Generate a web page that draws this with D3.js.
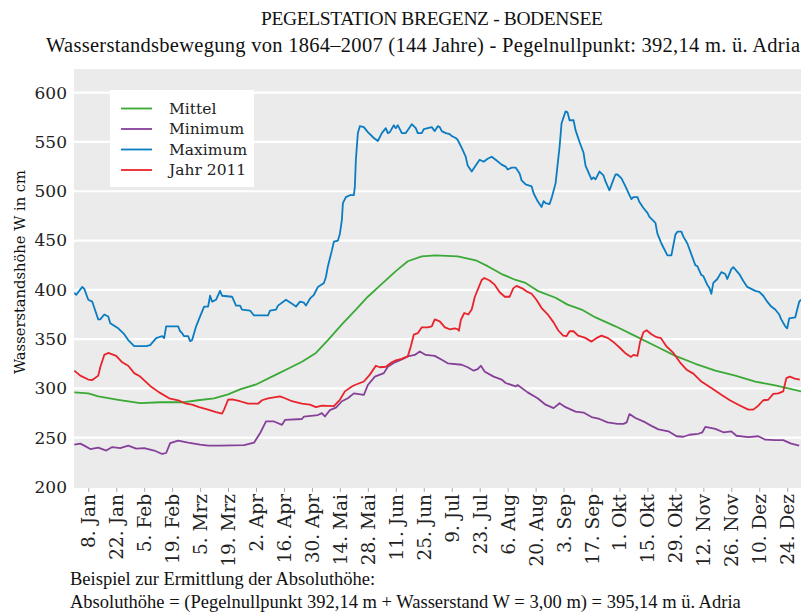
<!DOCTYPE html>
<html>
<head>
<meta charset="utf-8">
<script src="https://cdn.jsdelivr.net/npm/d3@7"></script>
<style>
  body { margin: 0; background: #fff; }
  svg { display: block; }
</style>
</head>
<body>
<svg id="chart" width="801" height="613"></svg>
<script>
// Tageswerte als [Tag des Jahres, Wasserstand in cm]
const mittel = [[1,296],[8,295],[13,292],[23,288.5],[34,285],[44,286],[56,286],[63,288],[71,290],[78,294],[84,299],[92,304],[102,314],[108,320],[115,327],[122,336],[128,349],[135,365],[142,380],[148,393],[155,406],[162,419],[168,429],[175,434],[182,435],[193,434],[202,430],[208,424],[215,416],[222,410],[227,407],[233,399],[242,392],[248,385],[255,380],[262,372],[272,363],[282,353],[292,343],[302,333],[312,325],[322,318],[332,313],[342,307],[352,303],[365,297]];

const minimum = [[1,243],[4,244],[6,242],[9,238.5],[13,240],[17,237],[20,240.5],[24,239.5],[28,242],[32,239],[36,239.5],[41,237],[45,233.5],[47,234.5],[49,244.5],[53,247],[58,245],[64,243],[68,242],[74,242],[86,242.5],[91,245],[94,254.5],[97,266.5],[101,266.5],[105,263],[106.5,268],[115,269],[116,271.5],[123,273],[125,275],[126.5,271.5],[129,278],[132,280.5],[135,287],[138,290],[141,295],[146,293.5],[148,303.5],[151.5,312],[156,315.5],[158,322],[161.5,326.5],[165,329.5],[168,332.5],[171.5,334],[174,337.5],[177,334],[181.5,333],[185,329],[188,325.5],[195,324],[198,321.5],[201,318],[203,319.5],[204.6,323],[206.6,317],[211,312],[215,309],[217,305.5],[222,302],[223,303.5],[228,296],[233,290],[237,283.5],[241,280],[244,285],[247,281],[252,276.5],[256,275.5],[260,271],[264,269],[268,265.5],[273,264],[276,264],[277.6,265.5],[279,274],[282,270],[287,265.5],[290,262],[293.5,258.5],[298.5,256.5],[302.6,251.5],[306,251],[309,253],[313.5,254],[315.5,255.5],[317,261],[322,259],[326,255.5],[330,256.5],[332.6,252],[338.5,250.5],[343.5,251.5],[347,248],[352,247.5],[356,247.5],[360,244],[364,242]];

const maximum = [[1,397],[2,395],[5,403],[6,401],[8,390],[10,388],[13,370],[14,370],[16,375],[18,373],[19,366],[23,361],[26,355],[28,349],[31,343],[37,343],[39,344],[42,351],[45,353],[46,351],[47,363],[53,363],[54,358],[55,356],[56,353],[58,353],[59,348],[60,349],[62,363],[64,373],[66,383],[68,383],[69,394],[70,388],[72,390],[74,399],[75,394],[80,393],[82,384],[84,384],[85,380],[89,379],[91,374],[98,374],[99,379],[102,380],[103,384],[107,390],[110,386],[112,383],[114,388],[116,387],[117,384],[119,391],[121,395],[123,403],[126,407],[127,413],[128,424],[130,440],[131,449],[133,450],[134,457],[135,471],[135.5,488],[137,494],[139,496],[141,496],[141.5,505],[142,532],[143,559],[144,566],[146,565],[148,560],[151,554],[153,551],[155,559],[157,564],[158,559],[159,560],[161,567],[162,564],[163,567],[165,559],[167,559],[170,568],[172,564],[173,559],[175,559],[176,563],[178,564],[180,565],[181.5,561],[183,566],[184,565],[185,561],[187,559],[189,558],[190,556],[192,554],[193,552],[195,544],[197,535],[198,526],[200,520],[202,526],[204,532],[205,531],[206,530],[208,533],[210,535],[212,532],[215,527],[217,525],[218,522],[220,524],[222,524],[224,518],[225,511],[227,507],[230,505],[231,498],[233,490],[235,484],[236,490],[237,488],[239,487],[240,493],[242,508],[244,545],[245,569],[247,581],[248,580],[249,572],[251,572],[252,562],[254,550],[256,539],[257,526],[260,512],[261,514],[262,512],[264,520],[266,516],[267,510],[269,501],[271,512],[272,517],[273,517],[275,513],[277,505],[279,496],[280,492],[281,494],[283,494],[284,489],[286,483],[288,478],[289,474],[292,468],[293,457],[295,447],[298,435],[300,435],[302,456],[303,459],[305,459],[306,454],[308,447],[310,436],[312,425],[313,424],[315,415],[316,414],[318,405],[319,402],[320,396],[321,407],[323,411],[325,418],[327,416],[328,411],[330,421],[331,423],[334,416],[336,409],[338,403],[342,399],[344,398],[346,394],[348,388],[350,383],[352,380],[354,375],[355,370],[357,363],[358,361],[359,371],[362,372],[363,380],[364,388],[365,390]];

const jahr2011 = [[1,318],[4,313],[8,309],[10,308.5],[13,313],[14,321.5],[16,334],[18,336],[22,333],[25,326.5],[28,323],[31,315.5],[34,312],[39,302.5],[43.5,296],[48.5,290],[53,288],[57,284.5],[60,283.5],[63.5,281],[68,278.5],[72,276],[75,274.5],[76,278.5],[78,288.5],[80,289],[84,287],[88,284.5],[93,284.5],[95,288],[98,290],[104,292],[106.5,290],[110,287],[115,284.5],[119,283.5],[122,281],[125,282.5],[131,282],[134,288.5],[136.5,297],[140,302],[141.5,303.5],[146,307],[149,314],[152,323],[154,321.5],[157,322],[160,326.5],[162,328.5],[165,330],[168,332.5],[169.5,342.5],[171,354.5],[173,356],[175,362],[178,362],[180,363],[181.5,370],[184,368],[186.6,362],[189,360],[191.6,361],[193,360],[193.6,358.5],[194.6,369.5],[196.3,376.5],[198.3,375],[200,380],[201.6,393],[203.3,401.5],[205,410],[206.3,412],[209,409.5],[211.6,405],[214,397.5],[216.6,393],[219,393],[220.8,401.5],[222.4,404],[225.3,401.5],[227.4,398.5],[230,396],[232.4,390],[235,381.5],[238.3,374.5],[241,367],[243.3,359],[245.8,353.5],[247.4,353],[249,358],[251,358],[253.3,353.5],[256.6,351.5],[260,347.5],[262.4,351],[265,353.5],[268.3,351],[271.6,346],[274.3,341],[276.8,336],[279.8,332],[281,334],[283,333],[284.3,347],[286,357],[287.6,359],[290,355],[292.6,352],[294.8,351],[297.6,342.5],[301,336],[304.3,326.5],[307.6,319],[311,315],[315,307],[320,300.5],[325,293.5],[329.3,288],[333.5,283.5],[338.5,278.5],[341,278.5],[343.5,282.5],[346,288],[348.5,288.5],[351,294.5],[353.5,295],[356,297],[357.6,310.5],[359.3,312],[361.8,310],[364.3,309]];

const seriesNames = ['Mittel', 'Minimum', 'Maximum', 'Jahr 2011'];
const seriesColors = ['#3aa935', '#86409a', '#0a7cc2', '#e8232b'];

const xTickLabels = ['8. Jan', '22. Jan', '5. Feb', '19. Feb', '5. Mrz', '19. Mrz', '2. Apr', '16. Apr', '30. Apr',
  '14. Mai', '28. Mai', '11. Jun', '25. Jun', '9. Jul', '23. Jul', '6. Aug', '20. Aug', '3. Sep', '17. Sep',
  '1. Okt', '15. Okt', '29. Okt', '12. Nov', '26. Nov', '10. Dez', '24. Dez'];
const yTicks = [200, 250, 300, 350, 400, 450, 500, 550, 600];

const svg = d3.select('#chart');
const panel = { left: 74, top: 69, right: 801, bottom: 488 };

// Tag des Jahres -> Datum (2011)
const dayToDate = d => new Date(2011, 0, 1 + (d - 1), Math.round((d % 1) * 24));

const x = d3.scaleTime()
  .domain([new Date(2011, 0, 1), new Date(2011, 11, 31)])
  .range([74.3, 801.2]);

const y = d3.scaleLinear()
  .domain([199, 624])
  .range([panel.bottom, panel.top]);

// Hintergrund
svg.append('rect')
  .attr('x', panel.left).attr('y', panel.top)
  .attr('width', panel.right - panel.left).attr('height', panel.bottom - panel.top)
  .attr('fill', '#ebebeb');

// Gitterlinien
svg.append('g')
  .selectAll('line')
  .data(yTicks.filter(t => t > 200))
  .enter().append('line')
  .attr('x1', panel.left).attr('x2', panel.right)
  .attr('y1', d => y(d)).attr('y2', d => y(d))
  .attr('stroke', '#fff')
  .attr('stroke-width', 2.2);

// Y-Achse
const yAxis = svg.append('g')
  .attr('transform', `translate(${panel.left},0)`)
  .call(d3.axisLeft(y).tickValues(yTicks).tickSize(0).tickPadding(7));
yAxis.select('.domain').remove();
yAxis.selectAll('text')
  .attr('font-family', 'DejaVu Serif')
  .attr('font-size', 17)
  .attr('fill', '#222');

// X-Achse
const tickDates = xTickLabels.map((l, i) => d3.timeDay.offset(new Date(2011, 0, 8), 14 * i));
const xAxis = svg.append('g')
  .attr('transform', `translate(0,${panel.bottom})`)
  .call(d3.axisBottom(x).tickValues(tickDates).tickSize(4)
    .tickFormat((d, i) => xTickLabels[i]));
xAxis.select('.domain').remove();
xAxis.selectAll('.tick line').attr('stroke', '#aaa');
xAxis.selectAll('text')
  .attr('font-family', 'DejaVu Serif')
  .attr('font-size', 18.5)
  .attr('fill', '#222')
  .attr('transform', 'rotate(-90)')
  .attr('text-anchor', 'end')
  .attr('x', -6)
  .attr('y', 0)
  .attr('dy', '0.35em');

// Linien
const line = d3.line()
  .x(d => x(dayToDate(d[0])))
  .y(d => y(d[1]));

svg.append('clipPath').attr('id', 'clip')
  .append('rect')
  .attr('x', panel.left).attr('y', panel.top)
  .attr('width', panel.right - panel.left).attr('height', panel.bottom - panel.top);

const allSeries = [mittel, minimum, maximum, jahr2011];
svg.append('g')
  .attr('clip-path', 'url(#clip)')
  .selectAll('path')
  .data(allSeries)
  .enter().append('path')
  .attr('d', line)
  .attr('fill', 'none')
  .attr('stroke', (d, i) => seriesColors[i])
  .attr('stroke-width', 1.8)
  .attr('stroke-linejoin', 'round');

// Legende
const legend = svg.append('g');
legend.append('rect')
  .attr('x', 110).attr('y', 90)
  .attr('width', 144).attr('height', 97)
  .attr('fill', '#fff');
const items = legend.selectAll('g.item')
  .data(seriesNames)
  .enter().append('g')
  .attr('class', 'item')
  .attr('transform', (d, i) => `translate(0,${108.5 + i * 20.5})`);
items.append('line')
  .attr('x1', 121).attr('x2', 152)
  .attr('stroke', (d, i) => seriesColors[i])
  .attr('stroke-width', 1.8);
items.append('text')
  .attr('x', 169)
  .attr('dy', '0.35em')
  .attr('font-family', 'DejaVu Serif')
  .attr('font-size', 15.5)
  .attr('fill', '#222')
  .text(d => d);

// Titel
svg.append('text')
  .attr('x', 432).attr('y', 25)
  .attr('text-anchor', 'middle')
  .attr('font-family', 'Liberation Serif')
  .attr('font-size', 19.5)
  .attr('fill', '#111')
  .attr('textLength', 342)
  .text('PEGELSTATION BREGENZ - BODENSEE');
svg.append('text')
  .attr('x', 46).attr('y', 52)
  .attr('font-family', 'Liberation Serif')
  .attr('font-size', 20.5)
  .attr('fill', '#111')
  .attr('textLength', 754)
  .text('Wasserstandsbewegung von 1864–2007 (144 Jahre) - Pegelnullpunkt: 392,14 m. ü. Adria');

// Achsentitel
svg.append('text')
  .attr('transform', 'translate(25,272) rotate(-90)')
  .attr('text-anchor', 'middle')
  .attr('font-family', 'DejaVu Serif')
  .attr('font-size', 15.5)
  .attr('fill', '#111')
  .attr('textLength', 204)
  .attr('lengthAdjust', 'spacingAndGlyphs')
  .text('Wasserstandshöhe W in cm');

// Fußnote
svg.append('text')
  .attr('x', 70).attr('y', 585)
  .attr('font-family', 'Liberation Serif')
  .attr('font-size', 18.5)
  .attr('fill', '#111')
  .text('Beispiel zur Ermittlung der Absoluthöhe:');
svg.append('text')
  .attr('x', 70).attr('y', 608)
  .attr('font-family', 'Liberation Serif')
  .attr('font-size', 18.5)
  .attr('fill', '#111')
  .text('Absoluthöhe = (Pegelnullpunkt 392,14 m + Wasserstand W = 3,00 m) = 395,14 m ü. Adria');
</script>
</body>
</html>
